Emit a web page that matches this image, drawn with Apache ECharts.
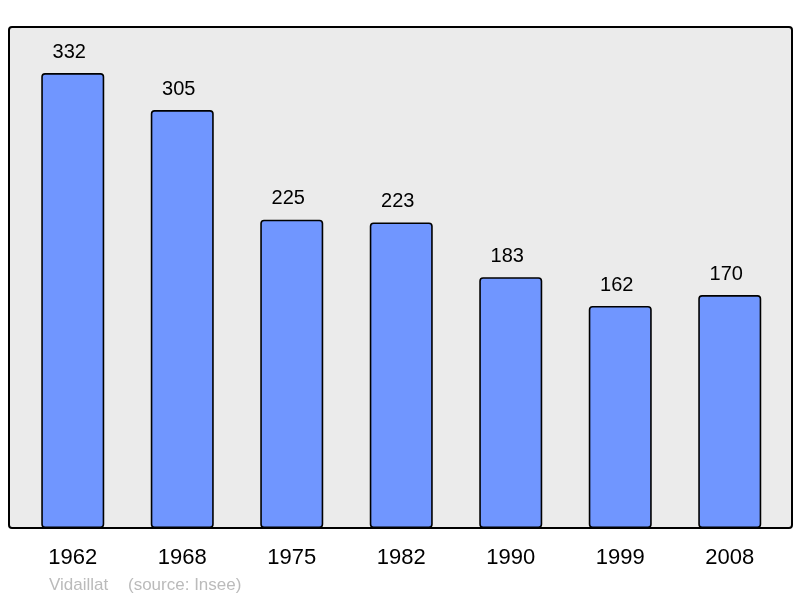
<!DOCTYPE html>
<html><head><meta charset="utf-8">
<script src="https://cdn.jsdelivr.net/npm/echarts@6/dist/echarts.min.js"></script>
<style>html,body{margin:0;padding:0;background:#fff}#c{width:800px;height:598px}</style>
</head><body><div id="c"></div>
<script>
var years = ['1962','1968','1975','1982','1990','1999','2008'];
var population = [332,305,225,223,183,162,170];
var placeName = 'Vidaillat';
var sourceText = '(source: Insee)';

var chart = echarts.init(document.getElementById('c'), null, {renderer:'canvas'});
chart.setOption({
  animation:false,
  backgroundColor:'#ffffff',
  graphic:[
    {type:'rect', z:-10, shape:{x:9,y:27,width:783,height:501,r:3}, style:{fill:'#ebebeb',stroke:'#000',lineWidth:2}},
    {type:'text', x:49, y:585, style:{text:placeName, fill:'#bbbbbb', font:'17px "Liberation Sans", Arial, sans-serif', verticalAlign:'middle'}},
    {type:'text', x:128, y:585, style:{text:sourceText, fill:'#bbbbbb', font:'17px "Liberation Sans", Arial, sans-serif', verticalAlign:'middle'}}
  ],
  grid:{left:18, width:766.5, top:27, bottom:70},
  xAxis:{type:'category', data:years,
    axisLine:{show:false}, axisTick:{show:false},
    axisLabel:{color:'#000', fontSize:22, fontFamily:'Liberation Sans, Arial, sans-serif', margin:19}},
  yAxis:{type:'value', min:0, max:365.6, show:false, splitLine:{show:false}},
  series:[{type:'bar', data:population, barWidth:63,
    itemStyle:{color:'#7096ff', borderColor:'#000', borderWidth:1.6, borderRadius:3},
    label:{show:true, position:'top', distance:11, offset:[-3.5,0], color:'#000', fontSize:20, fontFamily:'Liberation Sans, Arial, sans-serif'}
  }]
});
</script></body></html>
